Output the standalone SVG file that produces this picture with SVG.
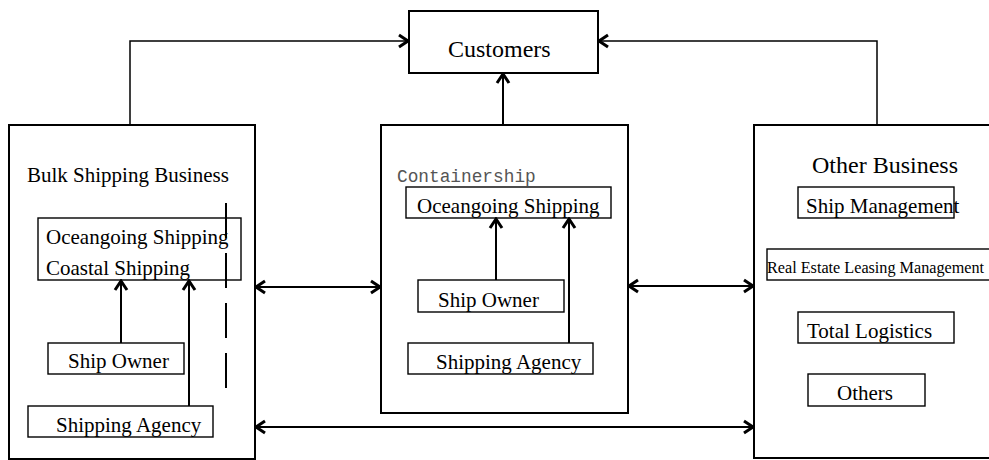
<svg xmlns="http://www.w3.org/2000/svg" width="989" height="460" viewBox="0 0 989 460">
<defs>
<style>
.big{fill:#fff;stroke:#000;stroke-width:2}
.box{fill:#fff;stroke:#000;stroke-width:1.4}
.t{font-family:"Liberation Serif","Times New Roman",serif;font-size:21px;fill:#000}
.m{font-family:"Liberation Mono","DejaVu Sans Mono",monospace;font-size:17.8px;fill:#555}
.c{fill:none;stroke:#000;stroke-width:2}
.ct{fill:none;stroke:#000;stroke-width:1.5}
</style>
<marker id="ah" markerUnits="userSpaceOnUse" viewBox="-11 -8 13 16" refX="0" refY="0" markerWidth="13" markerHeight="16" orient="auto-start-reverse">
<path d="M-9,-6 L0,0 L-9,6" fill="none" stroke="#000" stroke-width="3"/>
</marker>
</defs>
<rect width="989" height="460" fill="#fff"/>

<g id="customers">
<rect class="big" x="409" y="11" width="189" height="62"/>
<text class="t" x="448" y="57" style="font-size:24px">Customers</text>
</g>

<g id="bulk">
<rect class="big" x="9" y="125" width="246" height="334"/>
<text class="t" x="27" y="182">Bulk Shipping Business</text>
<g id="bulk-shipping">
<rect class="box" x="38" y="218" width="203" height="62"/>
<text class="t" x="46" y="244">Oceangoing Shipping</text>
<text class="t" x="46" y="275">Coastal Shipping</text>
</g>
<g id="bulk-owner">
<rect class="box" x="48" y="343" width="136" height="31"/>
<text class="t" x="68" y="368">Ship Owner</text>
</g>
<g id="bulk-agency">
<rect class="box" x="28" y="406" width="185" height="31"/>
<text class="t" x="56" y="432">Shipping Agency</text>
</g>
<line x1="226" y1="203" x2="226" y2="388" stroke="#000" stroke-width="2" stroke-dasharray="35 15"/>
</g>

<g id="container">
<rect class="big" x="381" y="125" width="247" height="288"/>
<text class="m" x="397" y="182">Containership</text>
<g id="cont-shipping">
<rect class="box" x="406" y="187" width="205" height="31"/>
<text class="t" x="417" y="213">Oceangoing Shipping</text>
</g>
<g id="cont-owner">
<rect class="box" x="418" y="280" width="146" height="32"/>
<text class="t" x="438" y="307">Ship Owner</text>
</g>
<g id="cont-agency">
<rect class="box" x="408" y="343" width="185" height="31"/>
<text class="t" x="436" y="369">Shipping Agency</text>
</g>
</g>

<g id="other">
<rect class="big" x="754" y="125" width="250" height="333"/>
<text class="t" x="812" y="173" style="font-size:24px">Other Business</text>
<g id="ship-mgmt">
<rect class="box" x="798" y="187" width="156" height="31"/>
<text class="t" x="806" y="213">Ship Management</text>
</g>
<g id="real-estate">
<rect class="box" x="767" y="249" width="240" height="31"/>
<text class="t" x="767" y="273" style="font-size:16.2px">Real Estate Leasing Management</text>
</g>
<g id="logistics">
<rect class="box" x="798" y="312" width="156" height="31"/>
<text class="t" x="807" y="338">Total Logistics</text>
</g>
<g id="others">
<rect class="box" x="808" y="374" width="117" height="32"/>
<text class="t" x="837" y="400">Others</text>
</g>
</g>

<g id="connectors">
<polyline class="ct" points="130,125 130,41 408,41" marker-end="url(#ah)"/>
<polyline class="ct" points="877,125 877,41 599,41" marker-end="url(#ah)"/>
<line class="c" x1="503" y1="125" x2="503" y2="74" marker-end="url(#ah)"/>
<line class="c" x1="121" y1="343" x2="121" y2="281" marker-end="url(#ah)"/>
<line class="c" x1="189" y1="406" x2="189" y2="281" marker-end="url(#ah)"/>
<line class="c" x1="496" y1="280" x2="496" y2="219" marker-end="url(#ah)"/>
<line class="c" x1="569" y1="343" x2="569" y2="219" marker-end="url(#ah)"/>
<line class="c" x1="256" y1="287" x2="380" y2="287" marker-start="url(#ah)" marker-end="url(#ah)"/>
<line class="c" x1="629" y1="286" x2="753" y2="286" marker-start="url(#ah)" marker-end="url(#ah)"/>
<line class="c" x1="256" y1="427" x2="753" y2="427" marker-start="url(#ah)" marker-end="url(#ah)"/>
</g>
</svg>
